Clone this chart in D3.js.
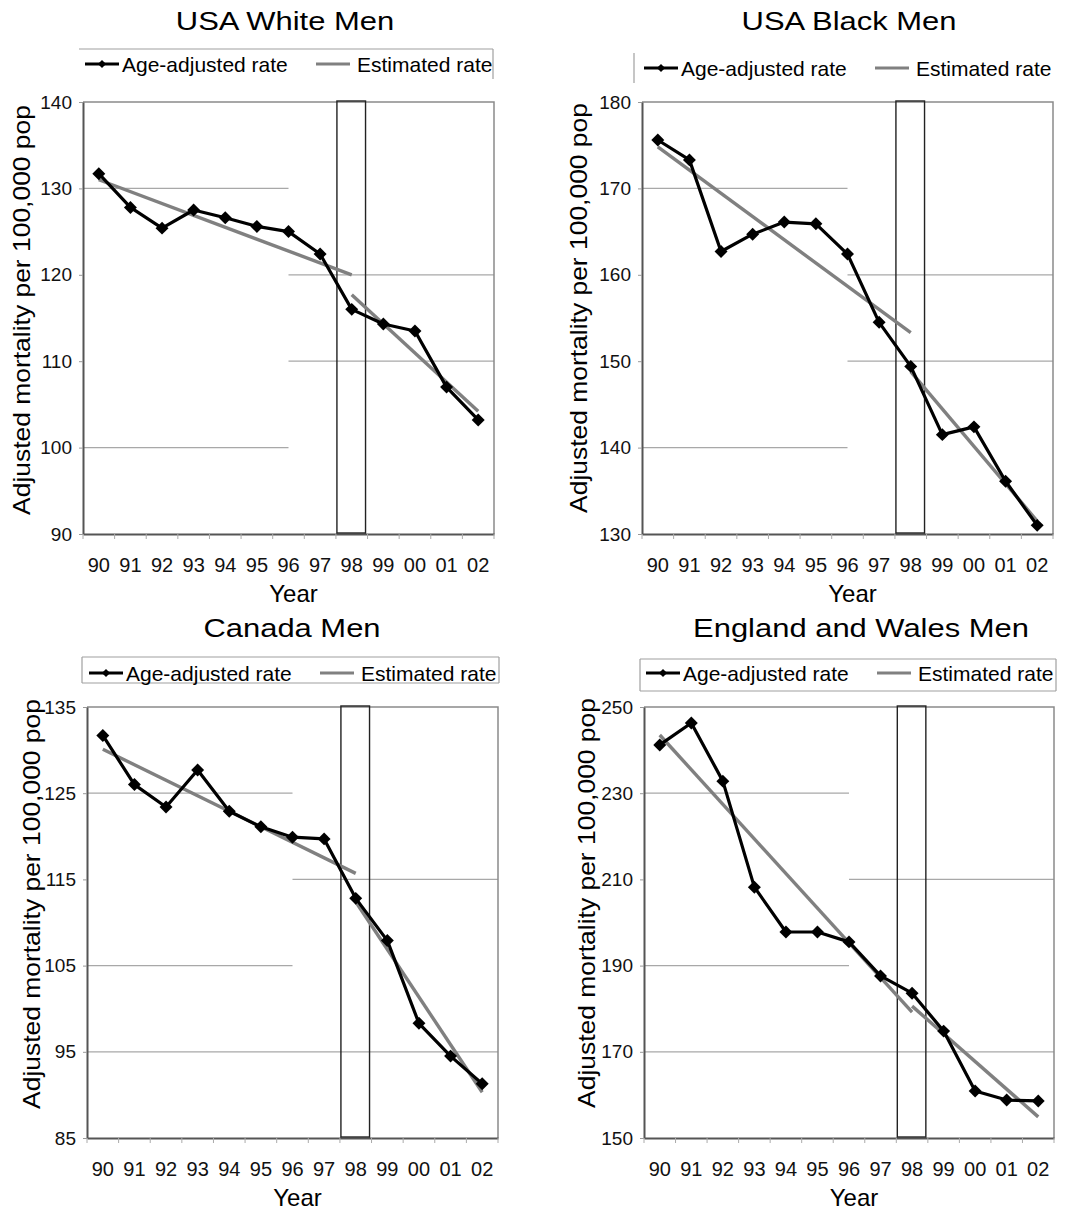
<!DOCTYPE html>
<html>
<head>
<meta charset="utf-8">
<script src="https://cdn.jsdelivr.net/npm/d3@7"></script>
<style>
  html, body { margin: 0; padding: 0; background: #fff; }
  svg { display: block; font-family: "Liberation Sans", Arial, Helvetica, sans-serif; }
</style>
</head>
<body>
<script>
// ---------------- DATA ----------------
const years = ["90","91","92","93","94","95","96","97","98","99","00","01","02"];
const estBeforeYears = ["90","98"];
const estAfterYears = ["98","02"];

const usaWhiteRate = [131.7,127.8,125.4,127.5,126.6,125.6,125.0,122.4,116.0,114.3,113.5,107.0,103.2];
const usaWhiteEstBefore = [131.0,120.0];
const usaWhiteEstAfter = [117.7,104.2];
const usaWhiteTicks = [90,100,110,120,130,140];
const usaWhiteGrid = [[130,"L"],[120,"R"],[110,"R"],[100,"L"]];

const usaBlackRate = [175.6,173.3,162.7,164.7,166.1,165.9,162.4,154.5,149.4,141.5,142.4,136.1,131.0];
const usaBlackEstBefore = [174.8,153.3];
const usaBlackEstAfter = [148.8,131.5];
const usaBlackTicks = [130,140,150,160,170,180];
const usaBlackGrid = [[170,"L"],[160,"R"],[150,"R"],[140,"L"]];

const canadaRate = [131.7,126.0,123.4,127.7,122.9,121.1,119.9,119.7,112.8,107.9,98.3,94.5,91.3];
const canadaEstBefore = [130.1,115.7];
const canadaEstAfter = [112.4,90.3];
const canadaTicks = [85,95,105,115,125,135];
const canadaGrid = [[125,"L"],[115,"R"],[105,"L"],[95,"F"]];

const englandRate = [241.2,246.3,232.8,208.2,197.8,197.8,195.5,187.6,183.6,174.8,160.9,158.8,158.6];
const englandEstBefore = [243.5,179.2];
const englandEstAfter = [180.6,154.9];
const englandTicks = [150,170,190,210,230,250];
const englandGrid = [[230,"L"],[210,"R"],[190,"L"],[170,"F"]];

const titles = ["USA White Men","USA Black Men","Canada Men","England and Wales Men"];
const legendLabels = ["Age-adjusted rate","Estimated rate"];
const xAxisTitle = "Year";
const yAxisTitle = "Adjusted mortality per 100,000 pop";

// ---------------- LAYOUT ----------------
const panels = [
  {title: titles[0], rate: usaWhiteRate, estB: usaWhiteEstBefore, estA: usaWhiteEstAfter, ticks: usaWhiteTicks, grid: usaWhiteGrid,
   left: 83, right: 494, top: 102, bottom: 534, titleX: 285, titleY: 30, ylabX: 30, ylabY: 310,
   legY: 64, legBox: {x1: -4, x2: 410, y1: -15, y2: 15, sides: "TR"}},
  {title: titles[1], rate: usaBlackRate, estB: usaBlackEstBefore, estA: usaBlackEstAfter, ticks: usaBlackTicks, grid: usaBlackGrid,
   left: 642, right: 1053, top: 102, bottom: 534, titleX: 849, titleY: 30, ylabX: 587, ylabY: 308,
   legY: 68, legBox: {x1: -8, x2: 412, y1: -15, y2: 15, sides: "L"}},
  {title: titles[2], rate: canadaRate, estB: canadaEstBefore, estA: canadaEstAfter, ticks: canadaTicks, grid: canadaGrid,
   left: 87, right: 498, top: 707, bottom: 1138, titleX: 292, titleY: 637, ylabX: 40, ylabY: 904,
   legY: 673, legBox: {x1: -5, x2: 412, y1: -16, y2: 10, sides: "TRBL"}},
  {title: titles[3], rate: englandRate, estB: englandEstBefore, estA: englandEstAfter, ticks: englandTicks, grid: englandGrid,
   left: 644, right: 1054, top: 707, bottom: 1138, titleX: 861, titleY: 637, ylabX: 595, ylabY: 903,
   legY: 673, legBox: {x1: -4, x2: 412, y1: -14, y2: 18, sides: "TRBL"}}
];

const BLACK = "#000";
const GRAY = "#808080";
const GRID = "#a8a8a8";
const AXIS = "#555";

const svg = d3.select("body").append("svg").attr("width", 1068).attr("height", 1212);
svg.append("rect").attr("width", 1068).attr("height", 1212).attr("fill", "#fff");

const diamond = d3.symbol().type(d3.symbolSquare).size(84);
const diamondSmall = d3.symbol().type(d3.symbolSquare).size(34);

panels.forEach(p => {
  const g = svg.append("g");
  const x = d3.scaleBand().domain(years).range([p.left, p.right]).padding(0);
  const y = d3.scaleLinear().domain([p.ticks[0], p.ticks[p.ticks.length - 1]]).range([p.bottom, p.top]);
  const cx = d => x(d) + x.bandwidth() / 2;
  const split = cx("96");

  // gridlines
  p.grid.forEach(([v, side]) => {
    const x1 = side === "R" ? split : p.left;
    const x2 = side === "L" ? split : p.right;
    g.append("line").attr("x1", x1).attr("x2", x2).attr("y1", y(v)).attr("y2", y(v))
      .attr("stroke", GRID).attr("stroke-width", 1.2);
  });

  // top & right border
  g.append("path")
    .attr("d", `M${p.left},${y(p.ticks[p.ticks.length - 1])}H${p.right}V${p.bottom}`)
    .attr("fill", "none").attr("stroke", "#8a8a8a").attr("stroke-width", 1.5);

  // 98 box
  g.append("rect")
    .attr("x", x("98") + 1).attr("y", y(p.ticks[p.ticks.length - 1]) - 1)
    .attr("width", x.bandwidth() - 3).attr("height", p.bottom - p.top + 1)
    .attr("fill", "none").attr("stroke", "#222").attr("stroke-width", 1.4);
  g.append("line").attr("x1", x("98") + 1).attr("x2", x("98") + x.bandwidth() - 2)
    .attr("y1", p.bottom - 1).attr("y2", p.bottom - 1).attr("stroke", "#222").attr("stroke-width", 1.4);

  // y axis
  const ya = g.append("g").attr("transform", `translate(${p.left},0)`)
    .call(d3.axisLeft(y).tickValues(p.ticks).tickSize(4).tickSizeOuter(0).tickPadding(7).tickFormat(d3.format("d")));
  ya.select(".domain").attr("stroke", AXIS).attr("stroke-width", 2);
  ya.selectAll(".tick line").attr("stroke", "#999");
  ya.selectAll(".tick text").attr("font-size", 19).attr("fill", "#111")
    .attr("font-family", "Liberation Sans, Arial, sans-serif");

  // x axis
  const xa = g.append("g").attr("transform", `translate(0,${p.bottom})`)
    .call(d3.axisBottom(x).tickSize(0).tickSizeOuter(0));
  xa.select(".domain").attr("stroke", AXIS).attr("stroke-width", 2);
  xa.selectAll(".tick text").attr("font-size", 20).attr("fill", "#111").attr("y", 38).attr("dy", null)
    .attr("font-family", "Liberation Sans, Arial, sans-serif");
  // boundary ticks
  const bounds = years.map(d => x(d)).concat([x(years[years.length - 1]) + x.bandwidth()]);
  g.selectAll(".bt").data(bounds).enter().append("line")
    .attr("x1", d => d).attr("x2", d => d).attr("y1", p.bottom).attr("y2", p.bottom + 5)
    .attr("stroke", "#aaa").attr("stroke-width", 1);

  // estimated lines
  const line = d3.line().x(d => cx(d[0])).y(d => y(d[1]));
  [d3.zip(estBeforeYears, p.estB), d3.zip(estAfterYears, p.estA)].forEach(seg => {
    g.append("path").attr("d", line(seg)).attr("fill", "none")
      .attr("stroke", GRAY).attr("stroke-width", 3.4);
  });

  // age-adjusted line
  const rateData = d3.zip(years, p.rate);
  g.append("path").attr("d", line(rateData)).attr("fill", "none")
    .attr("stroke", BLACK).attr("stroke-width", 3.2).attr("stroke-linejoin", "round");
  g.selectAll(".pt").data(rateData).enter().append("path")
    .attr("d", diamond)
    .attr("transform", d => `translate(${cx(d[0])},${y(d[1])}) rotate(45)`)
    .attr("fill", BLACK);

  // title
  svg.append("text").text(p.title)
    .attr("transform", `translate(${p.titleX},${p.titleY}) scale(1.19,1)`)
    .attr("text-anchor", "middle").attr("font-size", 26).attr("fill", "#000");

  // y label
  svg.append("text").text(yAxisTitle)
    .attr("transform", `translate(${p.ylabX},${p.ylabY}) rotate(-90) scale(1.15,1)`)
    .attr("text-anchor", "middle").attr("font-size", 23).attr("fill", "#000");

  // x label
  svg.append("text").text(xAxisTitle)
    .attr("x", (p.left + p.right) / 2 + 5).attr("y", p.bottom + 68)
    .attr("text-anchor", "middle").attr("font-size", 24).attr("fill", "#000");

  // legend
  const L = p.left, ly = p.legY, b = p.legBox;
  const lb = svg.append("g").attr("stroke", "#a0a0a0").attr("stroke-width", 1.2);
  if (b.sides.includes("T")) lb.append("line").attr("x1", L + b.x1).attr("x2", L + b.x2).attr("y1", ly + b.y1).attr("y2", ly + b.y1);
  if (b.sides.includes("B")) lb.append("line").attr("x1", L + b.x1).attr("x2", L + b.x2).attr("y1", ly + b.y2).attr("y2", ly + b.y2);
  if (b.sides.includes("L")) lb.append("line").attr("x1", L + b.x1).attr("x2", L + b.x1).attr("y1", ly + b.y1).attr("y2", ly + b.y2);
  if (b.sides.includes("R")) lb.append("line").attr("x1", L + b.x2).attr("x2", L + b.x2).attr("y1", ly + b.y1).attr("y2", ly + b.y2);

  svg.append("line").attr("x1", L + 2).attr("x2", L + 36).attr("y1", ly).attr("y2", ly)
    .attr("stroke", BLACK).attr("stroke-width", 3);
  svg.append("path").attr("d", diamondSmall).attr("transform", `translate(${L + 19},${ly}) rotate(45)`).attr("fill", BLACK);
  svg.append("text").text(legendLabels[0]).attr("x", L + 39).attr("y", ly).attr("dy", "0.36em")
    .attr("font-size", 21).attr("fill", "#000");
  svg.append("line").attr("x1", L + 233).attr("x2", L + 267).attr("y1", ly).attr("y2", ly)
    .attr("stroke", GRAY).attr("stroke-width", 3.2);
  svg.append("text").text(legendLabels[1]).attr("x", L + 274).attr("y", ly).attr("dy", "0.36em")
    .attr("font-size", 21).attr("fill", "#000");
});
</script>
</body>
</html>
